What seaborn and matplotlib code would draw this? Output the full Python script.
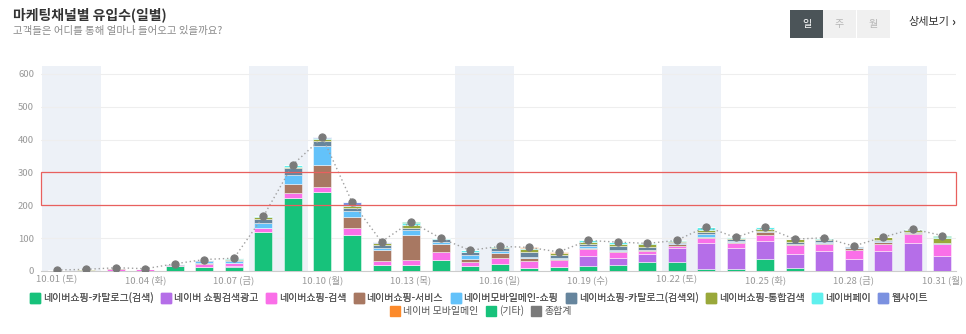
import numpy as np
import pandas as pd
import matplotlib
matplotlib.use("Agg")
import matplotlib.pyplot as plt
import matplotlib.transforms as mtransforms
from matplotlib.patches import Rectangle
from matplotlib.lines import Line2D
import seaborn as sns

# ---- data -------------------------------------------------------------
dates = ["10.01", "10.02", "10.03", "10.04", "10.05", "10.06", "10.07", "10.08",
         "10.09", "10.10", "10.11", "10.12", "10.13", "10.14", "10.15", "10.16",
         "10.17", "10.18", "10.19", "10.20", "10.21", "10.22", "10.23", "10.24",
         "10.25", "10.26", "10.27", "10.28", "10.29", "10.30", "10.31"]
weekdays = ["토", "일", "월", "화", "수", "목", "금", "토", "일", "월", "화", "수",
            "목", "금", "토", "일", "월", "화", "수", "목", "금", "토", "일", "월",
            "화", "수", "목", "금", "토", "일", "월"]

channels = ["네이버쇼핑-카탈로그(검색)", "네이버 쇼핑검색광고", "네이버쇼핑-검색",
            "네이버쇼핑-서비스", "네이버모바일메인-쇼핑", "네이버쇼핑-카탈로그(검색외)",
            "네이버쇼핑-통합검색", "네이버페이", "웹사이트", "네이버 모바일메인", "(기타)"]
total_label = "총합계"

catalog_search = [0, 0, 0, 0, 14, 13, 13, 120, 223, 240, 110, 17, 18, 34, 14, 22,
                  10, 13, 14, 18, 27, 26, 5, 7, 37, 8, 1, 0, 0, 0, 0]
shopping_ads = [1, 0, 0, 1, 0, 0, 2, 0, 0, 0, 0, 0, 0, 0, 0, 0,
                0, 0, 33, 21, 25, 43, 79, 64, 53, 44, 61, 37, 62, 86, 45]
shopping_search = [1, 3, 6, 5, 3, 9, 8, 10, 13, 15, 21, 14, 17, 25, 12, 19,
                   21, 21, 19, 18, 9, 8, 16, 15, 20, 27, 20, 27, 21, 26, 36]
shopping_service = [0, 1, 2, 0, 0, 2, 0, 0, 29, 67, 33, 33, 76, 22, 10, 14,
                    9, 4, 5, 4, 2, 4, 4, 2, 10, 2, 3, 5, 6, 4, 2]
mobile_main_shop = [0, 0, 0, 0, 2, 5, 6, 15, 27, 57, 19, 6, 13, 8, 14, 7,
                    4, 1, 4, 2, 0, 4, 10, 4, 0, 2, 4, 3, 1, 0, 0]
catalog_other = [1, 0, 0, 1, 1, 4, 4, 12, 21, 16, 10, 9, 8, 7, 8, 7,
                 13, 9, 8, 12, 10, 4, 5, 5, 2, 5, 5, 3, 3, 2, 2]
integrated_search = [0, 1, 2, 0, 0, 0, 4, 6, 5, 6, 4, 5, 9, 1, 1, 4,
                     10, 6, 6, 8, 8, 1, 5, 2, 6, 9, 2, 1, 10, 6, 15]
naver_pay = [0, 0, 0, 0, 2, 2, 2, 4, 6, 4, 5, 2, 4, 3, 4, 2,
             2, 1, 4, 5, 3, 3, 9, 3, 5, 0, 5, 0, 0, 4, 5]
website = [0, 0, 0, 0, 0, 0, 0, 0, 0, 2, 8, 3, 0, 0, 0, 0,
           0, 0, 0, 0, 0, 0, 2, 0, 0, 0, 0, 0, 0, 0, 0]
mobile_main = [0, 0, 0, 0, 0, 0, 0, 0, 0, 0, 0, 0, 0, 0, 0, 0,
               3, 3, 0, 0, 0, 0, 0, 0, 0, 0, 0, 0, 0, 0, 0]
etc = [0, 0, 0, 0, 0, 0, 0, 0, 0, 0, 0, 0, 5, 0, 0, 0,
       0, 0, 0, 0, 0, 0, 0, 0, 0, 0, 0, 0, 0, 0, 3]

series = [catalog_search, shopping_ads, shopping_search, shopping_service,
          mobile_main_shop, catalog_other, integrated_search, naver_pay,
          website, mobile_main, etc]

colors = ["#17c27b", "#b56ee8", "#fa6fe8", "#a87862", "#63c2fa", "#66859d",
          "#99a83a", "#5ff0ee", "#7b91e0", "#fc8a2b", "#17c27b"]
total_color = "#7a7a7a"

# ---- styling ----------------------------------------------------------
sns.set_theme(style="white")
plt.rcParams["font.family"] = ["Noto Sans CJK KR", "DejaVu Sans"]

W, H = 966, 334
fig = plt.figure(figsize=(W / 100, H / 100), dpi=100)
fig.patch.set_facecolor("white")

# plot area in pixel coordinates
left, right, top, bottom = 41, 956, 66, 271
ax = fig.add_axes([left / W, 1 - bottom / H, (right - left) / W, (bottom - top) / H])

n = len(dates)
day_idx = np.arange(n)

# weekend shading
for i, wd in enumerate(weekdays):
    if wd in ("토", "일"):
        ax.axvspan(i - 0.5, i + 0.5, color="#edf1f7", lw=0, zorder=0)

# long-form table for the stacked bars
long = pd.DataFrame({
    "day": np.tile(day_idx, len(channels)),
    "channel": np.repeat(channels, n),
    "value": np.concatenate([np.asarray(s, dtype=float) for s in series]),
})
palette = dict(zip(channels, colors))

# histplot stacks the first hue level on top, so feed the order reversed
sns.histplot(data=long, x="day", weights="value", hue="channel",
             hue_order=channels[::-1], multiple="stack", discrete=True, shrink=0.61,
             palette=palette, alpha=1, edgecolor=(1, 1, 1, 0.55), linewidth=0.6,
             legend=False, ax=ax, zorder=3)

# total line
totals = np.sum(np.array(series), axis=0)
sns.lineplot(x=day_idx, y=totals, ax=ax, color="#a0a0a0", linestyle=(0, (1, 2)),
             linewidth=1.0, marker="o", markersize=5.2, markerfacecolor=total_color,
             markeredgecolor=total_color, zorder=5)

# highlighted band 200~300
band = Rectangle((0, 200), 1, 100,
                 transform=mtransforms.blended_transform_factory(ax.transAxes, ax.transData),
                 fill=False, edgecolor="#e8605e", linewidth=0.9, zorder=6, clip_on=False)
ax.add_patch(band)

# axes
ax.set_xlim(-0.54, n - 0.53)
ax.set_ylim(0, 624)
ax.set_yticks(range(0, 601, 100))
ax.set_yticklabels([str(v) for v in range(0, 601, 100)], fontsize=6.9, color="#999999")
ax.set_xticks(day_idx[::3])
ax.set_xticklabels([f"{d} ({w})" for d, w in zip(dates[::3], weekdays[::3])],
                   fontsize=6.8, color="#999999")
ax.set_xticks(day_idx, minor=True)
ax.tick_params(axis="y", length=0, pad=5)
ax.tick_params(axis="x", which="both", length=4, color="#d5d5d5", width=0.8,
               direction="out", pad=3)
ax.tick_params(axis="x", which="major", length=0)
ax.set_xlabel("")
ax.set_ylabel("")
ax.yaxis.grid(True, color="#eeeeee", linewidth=0.8)
ax.xaxis.grid(False)
ax.set_axisbelow(True)
for s in ("left", "top", "right"):
    ax.spines[s].set_visible(False)
ax.spines["bottom"].set_color("#cccccc")
ax.spines["bottom"].set_linewidth(0.8)
ax.set_facecolor("white")

# legends (two centred rows)
handles = [Line2D([], [], marker="s", linestyle="", markersize=6.5, color=c) for c in colors]
handles.append(Line2D([], [], marker="s", linestyle="", markersize=6.5, color=total_color))
labels = channels + [total_label]
leg_kw = dict(frameon=False, fontsize=7.2, handletextpad=0.35, columnspacing=0.8,
              handlelength=0.9, borderpad=0, labelcolor="#555555")
leg1 = fig.legend(handles[:9], labels[:9], ncol=9, loc="center",
                  bbox_to_anchor=(479 / W, 1 - 298 / H), **leg_kw)
fig.add_artist(leg1)
fig.legend(handles[9:], labels[9:], ncol=3, loc="center",
           bbox_to_anchor=(481 / W, 1 - 311 / H), **leg_kw)

# header
fig.text(13 / W, 1 - 15 / H, "마케팅채널별 유입수(일별)", fontsize=10, fontweight="bold",
         color="#333333", ha="left", va="center")
fig.text(13 / W, 1 - 31 / H, "고객들은 어디를 통해 얼마나 들어오고 있을까요?", fontsize=7.5,
         color="#8a8a8a", ha="left", va="center")

# period toggle buttons
fig.add_artist(Rectangle((823 / W, 1 - 38 / H), 67 / W, 28 / H, transform=fig.transFigure,
                         facecolor="#f0f0f0", edgecolor="none"))
fig.add_artist(Line2D([856 / W, 856 / W], [1 - 38 / H, 1 - 10 / H], transform=fig.transFigure,
                      color="white", linewidth=0.8))
fig.add_artist(Rectangle((790 / W, 1 - 38 / H), 33 / W, 28 / H, transform=fig.transFigure,
                         facecolor="#4b5458", edgecolor="none"))
fig.text(806.5 / W, 1 - 24 / H, "일", fontsize=7.2, color="white", ha="center", va="center")
fig.text(839.5 / W, 1 - 24 / H, "주", fontsize=7.2, color="#b5b5b5", ha="center", va="center")
fig.text(873 / W, 1 - 24 / H, "월", fontsize=7.2, color="#b5b5b5", ha="center", va="center")
fig.text(908 / W, 1 - 22 / H, "상세보기", fontsize=8, color="#333333", ha="left", va="center")
fig.text(951 / W, 1 - 22.5 / H, "›", fontsize=8.5, fontweight="bold", color="#333333",
         ha="left", va="center")

fig.savefig("out.png", dpi=100, facecolor="white")
